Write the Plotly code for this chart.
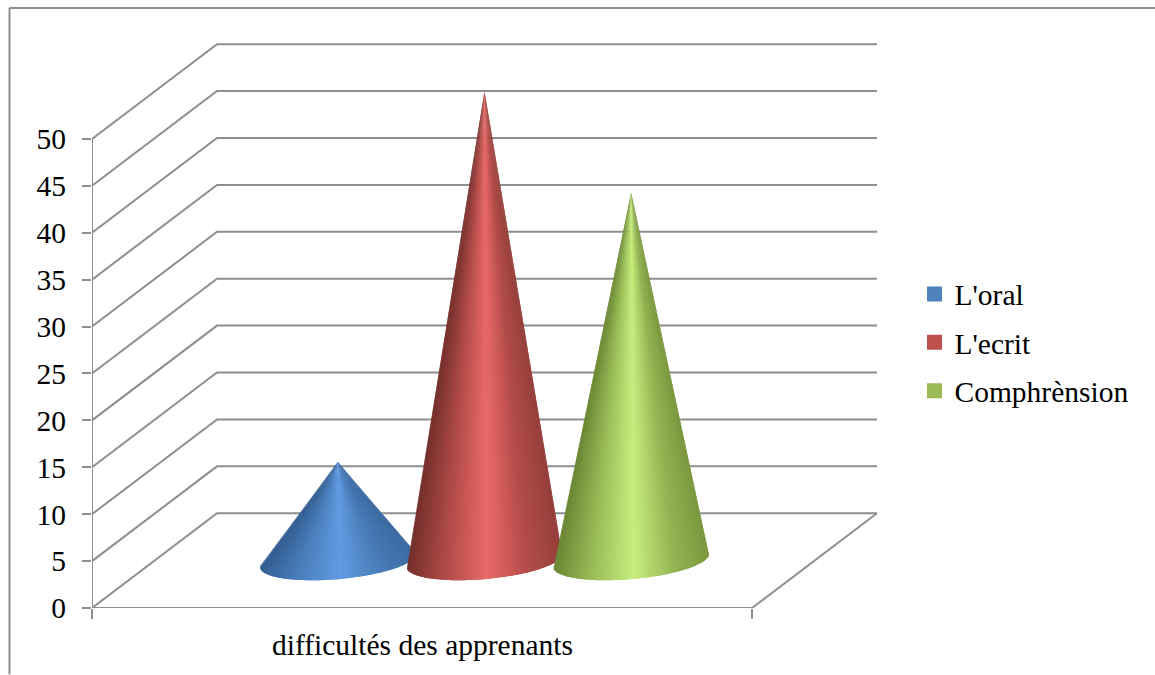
import numpy as np
import plotly.graph_objects as go

# ---- data ----
series_names = ["L'oral", "L'ecrit", "Comphrènsion"]
series_values = [10.5, 50, 39.2]
category_label = "difficultés des apprenants"
y_ticks = [0, 5, 10, 15, 20, 25, 30, 35, 40, 45, 50]
legend_colors = ["#4f81bd", "#c0504d", "#9bbb59"]
shade_edge_left = ["#345f93", "#75302c", "#6c8735"]
shade_mid_left = ["#4a7fbd", "#b04b48", "#98bb57"]
shade_center = ["#619ce2", "#ea6a68", "#c8ee7e"]
shade_mid_right = ["#4a7dba", "#b24c49", "#94b554"]
shade_edge_right = ["#3d6ba3", "#96403c", "#7c983f"]

# ---- oblique 3D frame (in axis units) ----
DEPTH_X = 0.1894
DEPTH_V = 10.1
GAP = 1.5
BASE_DEPTH_RADIUS = 0.207
GRID = "#8e8e8e"
FONT = "Liberation Serif"
FS = 29.5
W, H = 1155, 675
L, R, T, B = 92, 880, 40, 608.5
X_MAX = (R - L) / 660
Y_MAX = (B - T) / 9.39


def hex_rgb(h):
    return np.array([int(h[i:i + 2], 16) for i in (1, 3, 5)], float)


def shade(f, i):
    stops = [0, 0.24, 0.52, 0.78, 1]
    cols = [hex_rgb(c[i]) for c in (shade_edge_left, shade_mid_left, shade_center, shade_mid_right, shade_edge_right)]
    rgb = [np.interp(f, stops, [c[k] for c in cols]) for k in range(3)]
    return "rgb(%d,%d,%d)" % tuple(rgb)


fig = go.Figure()

# grid and walls
gx, gy = [], []
for v in y_ticks:
    gx += [0, DEPTH_X, 1 + DEPTH_X, None]
    gy += [v, v + DEPTH_V, v + DEPTH_V, None]
gx += [0, 1, 1 + DEPTH_X, None, 0, 0]
gy += [0, 0, DEPTH_V, None, 0, 50]
fig.add_trace(go.Scatter(x=gx, y=gy, mode="lines", line=dict(color=GRID, width=2),
                         showlegend=False, hoverinfo="skip", cliponaxis=False))

# cones: overlapping strips fanning out from the apex
bar_w = 1 / (len(series_values) + GAP)
for i, val in enumerate(series_values):
    cx = (GAP / 2 + i + 0.5) * bar_w + DEPTH_X / 2
    a = bar_w / 2
    ax, ay = cx, DEPTH_V / 2 + val
    t = np.linspace(0.6 * np.pi, 2.4 * np.pi, 1441)
    px = cx + a * np.cos(t) + BASE_DEPTH_RADIUS * np.sin(t) * DEPTH_X
    py = DEPTH_V / 2 + BASE_DEPTH_RADIUS * np.sin(t) * DEPTH_V
    ang = np.arctan2((px - ax) * 660, (ay - py) * 9.39)
    k0, k1 = int(np.argmin(ang)), int(np.argmax(ang))
    t2 = np.linspace(t[k0], t[k1], 61)
    qx = cx + a * np.cos(t2) + BASE_DEPTH_RADIUS * np.sin(t2) * DEPTH_X
    qy = DEPTH_V / 2 + BASE_DEPTH_RADIUS * np.sin(t2) * DEPTH_V
    n = len(t2)
    for j in range(n - 1):
        e = min(j + 3, n)  # strip reaches under the next ones, so no seams show
        f = ((qx[j] + qx[j + 1]) / 2 - qx.min()) / (qx.max() - qx.min())
        fig.add_trace(go.Scatter(
            x=[ax] + list(qx[j:e]) + [ax], y=[ay] + list(qy[j:e]) + [ay],
            mode="lines", fill="toself", fillcolor=shade(f, i), line=dict(width=0),
            showlegend=False, hoverinfo="skip", cliponaxis=False))

# legend entries
for i, name in enumerate(series_names):
    fig.add_trace(go.Scatter(x=[None], y=[None], mode="markers", name=name, legendgroup=name,
                             marker=dict(symbol="square", size=15, color=legend_colors[i])))

fig.update_layout(
    width=W, height=H, autosize=False,
    margin=dict(l=L, r=W - R, t=T, b=H - B, pad=0),
    paper_bgcolor="white", plot_bgcolor="white",
    font=dict(family=FONT, size=FS, color="#000000"),
    xaxis=dict(range=[0, X_MAX], showgrid=False, zeroline=False, showline=False,
               tickvals=[0, 1], ticktext=["", ""], ticks="outside", ticklen=10,
               tickwidth=2, tickcolor=GRID),
    yaxis=dict(range=[0, Y_MAX], showgrid=False, zeroline=False, showline=False,
               tickvals=y_ticks, ticks="outside", ticklen=9, tickwidth=2, tickcolor=GRID,
               ticklabelstandoff=10,
               tickfont=dict(family=FONT, size=FS, color="#000000")),
    legend=dict(x=(914.5 - L) / (R - L), xanchor="left", y=(B - 268.5) / (B - T), yanchor="top",
                tracegroupgap=7, font=dict(family=FONT, size=FS), bgcolor="rgba(0,0,0,0)",
                itemclick=False, itemdoubleclick=False),
    annotations=[dict(text=category_label, x=0.5, xref="x", y=0, yref="paper", yshift=-36.5,
                      showarrow=False, yanchor="middle", xanchor="center",
                      font=dict(family=FONT, size=FS, color="#000000"))],
    shapes=[
        dict(type="line", xref="paper", yref="paper", x0=(9.5 - L) / (R - L), x1=(W - L) / (R - L),
             y0=(B - 8) / (B - T), y1=(B - 8) / (B - T), line=dict(color=GRID, width=2)),
        dict(type="line", xref="paper", yref="paper", x0=(9.5 - L) / (R - L), x1=(9.5 - L) / (R - L),
             y0=(B - 8) / (B - T), y1=(B - H) / (B - T), line=dict(color=GRID, width=2)),
    ],
)

fig.write_html("out.html", config={"displayModeBar": False},
               post_script="document.body.style.margin='0';document.body.style.overflow='hidden';")
